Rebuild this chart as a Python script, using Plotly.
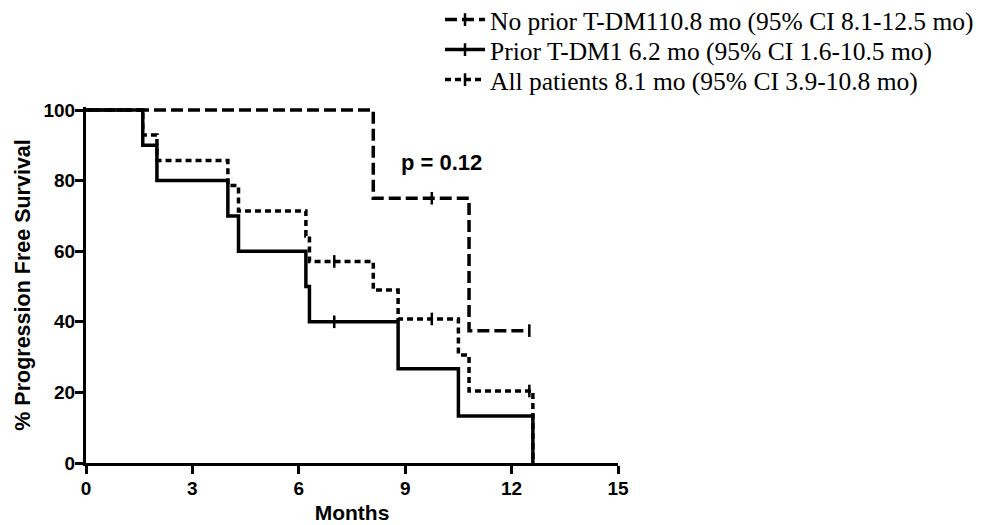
import plotly.graph_objects as go

# ---- data ----
noprior_label = "No prior T-DM110.8 mo (95% CI 8.1-12.5 mo)"
noprior_t = [0, 8.1, 10.8, 12.5]
noprior_s = [100, 75, 37.5, 37.5]
noprior_cens_t = [9.75, 12.5]
noprior_cens_s = [75, 37.5]

prior_label = "Prior T-DM1 6.2 mo (95% CI 1.6-10.5 mo)"
prior_t = [0, 1.6, 2.0, 4.0, 4.3, 6.2, 6.3, 8.8, 10.5, 12.6]
prior_s = [100, 90, 80, 70, 60, 50, 40, 26.7, 13.3, 0]
prior_cens_t = [7.0]
prior_cens_s = [40]

all_label = "All patients 8.1 mo (95% CI 3.9-10.8 mo)"
all_t = [0, 1.6, 2.0, 4.0, 4.3, 6.2, 6.3, 8.1, 8.8, 10.5, 10.8, 12.6]
all_s = [100, 92.9, 85.7, 78.6, 71.4, 64.3, 57.1, 49.0, 40.8, 30.6, 20.4, 0]
all_cens_t = [7.0, 9.75, 12.5]
all_cens_s = [57.1, 40.8, 20.4]

x_ticks = [0, 3, 6, 9, 12, 15]
y_ticks = [0, 20, 40, 60, 80, 100]

p_text = "p = 0.12"
p_x, p_y = 10.02, 85

series = [
    (noprior_label, noprior_t, noprior_s, noprior_cens_t, noprior_cens_s, "12px,5px"),
    (prior_label, prior_t, prior_s, prior_cens_t, prior_cens_s, "solid"),
    (all_label, all_t, all_s, all_cens_t, all_cens_s, "6px,4px"),
]

# page body has an 8px offset; compensate in the margins
OFF = 8
W, H = 987, 525
px_per_unit = 353 / 100
y_top_val = 100.85  # small headroom so the 100% line is not clipped
plot_left = 86 - OFF
plot_right = 618 - OFF
plot_bottom = 463 - OFF
plot_top = round(plot_bottom - y_top_val * px_per_unit)
plot_w, plot_h = plot_right - plot_left, plot_bottom - plot_top

legend_names = ["legend", "legend2", "legend3"]
legend_rows_px = [20 - OFF, 50 - OFF, 80 - OFF]
legend_left_fig = 432

fig = go.Figure()
for i, (label, t, s, ct, cs, dash) in enumerate(series):
    g = f"g{i}"
    fig.add_trace(go.Scatter(
        x=t, y=s, mode="lines", line=dict(color="black", width=3.5, dash=dash, shape="hv"),
        showlegend=False, legendgroup=g, hoverinfo="skip"))
    fig.add_trace(go.Scatter(
        x=ct, y=cs, mode="markers",
        marker=dict(symbol="line-ns", size=9, line=dict(color="black", width=2.5)),
        showlegend=False, legendgroup=g, hoverinfo="skip", cliponaxis=False))
    fig.add_trace(go.Scatter(
        x=[None], y=[None], mode="lines+markers", name=label, legendgroup=g,
        legend=legend_names[i],
        line=dict(color="black", width=3.5, dash=dash),
        marker=dict(symbol="line-ns", size=9, line=dict(color="black", width=2.5))))

fig.add_annotation(x=p_x, y=p_y, text=f"<b>{p_text}</b>", showarrow=False,
                   font=dict(family="Liberation Sans", size=22, color="black"))

legend_font = dict(family="Liberation Serif", size=25.5, color="black")
legend_layout = {}
for name, row in zip(legend_names, legend_rows_px):
    legend_layout[name] = dict(
        x=(legend_left_fig - plot_left) / plot_w, y=1 + (plot_top - row) / plot_h,
        xanchor="left", yanchor="middle", font=legend_font,
        bgcolor="rgba(0,0,0,0)", itemwidth=40, borderwidth=0)

axis_font = dict(family="Liberation Sans", size=19, color="black")
fig.update_layout(
    width=W, height=H,
    margin=dict(l=plot_left, r=W - plot_right, t=plot_top, b=H - plot_bottom, autoexpand=False),
    paper_bgcolor="white", plot_bgcolor="white",
    showlegend=True,
    xaxis=dict(range=[0, 15], tickvals=x_ticks, ticktext=[f"<b>{v}</b>" for v in x_ticks],
               showgrid=False, zeroline=False, showline=True, linecolor="black", linewidth=3,
               ticks="outside", ticklen=8, tickwidth=3, tickcolor="black",
               tickfont=axis_font, automargin=False, ticklabelstandoff=-2,
               title=dict(text="<b>Months</b>", font=dict(family="Liberation Sans", size=21, color="black"),
                          standoff=8)),
    yaxis=dict(range=[0, y_top_val], tickvals=y_ticks, ticktext=[f"<b>{v}</b>" for v in y_ticks],
               showgrid=False, zeroline=False, showline=True, linecolor="black", linewidth=3,
               ticks="outside", ticklen=8, tickwidth=3, tickcolor="black",
               tickfont=axis_font, automargin=False, ticklabelstandoff=-4,
               title=dict(text="<b>% Progression Free Survival</b>",
                          font=dict(family="Liberation Sans", size=21.5, color="black"), standoff=7)),
    **legend_layout,
)

fig.write_html("out.html")
